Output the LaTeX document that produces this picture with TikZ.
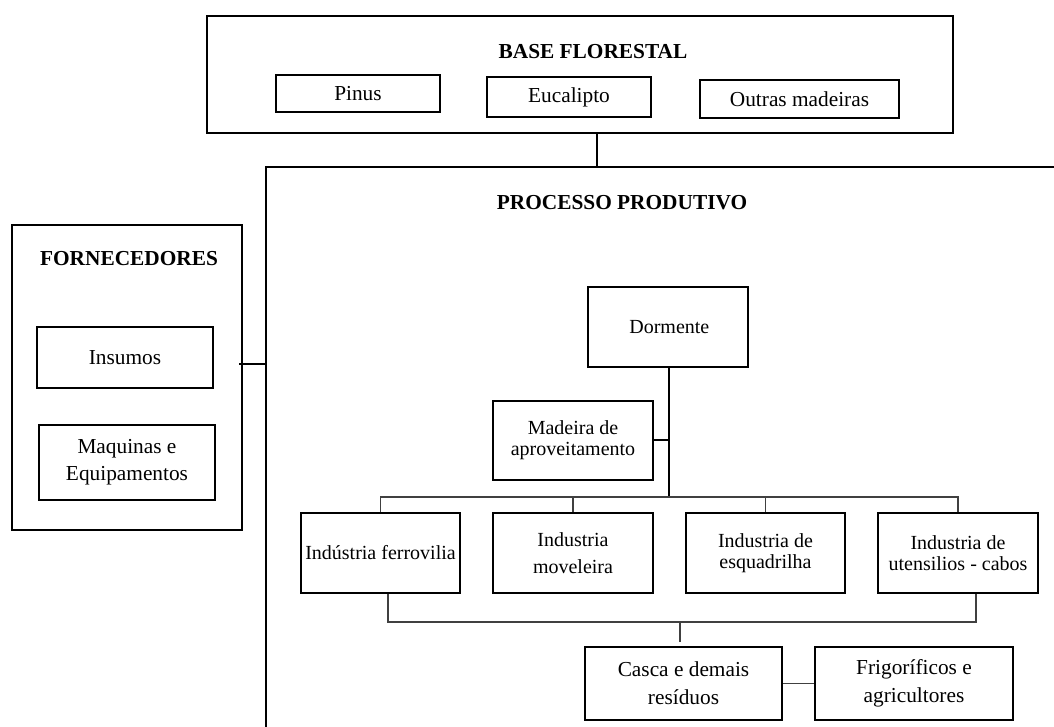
\documentclass[tikz,border=0pt]{standalone}
\usepackage{fontspec}
\setmainfont{Liberation Serif}
\usetikzlibrary{calc}
\begin{document}
\begin{tikzpicture}[x=0.75pt,y=-0.75pt,
  box/.style={draw=black,line width=1.5pt,inner sep=0pt,align=center,font=\fontsize{16}{19}\selectfont},
  pbox/.style={draw=black,line width=1.5pt,inner sep=0pt,align=center,font=\fontsize{15}{16}\selectfont},
  title/.style={inner sep=0pt,font=\fontsize{16}{19}\selectfont\bfseries},
  thick line/.style={draw=black,line width=1.5pt},
  thin line/.style={draw=black!75,line width=0.9pt}]
\useasboundingbox (0,0) rectangle (1054,727);
% Base florestal
\node[box,minimum width=559.5pt,minimum height=87.75pt] (base) at (580,74.5) {};
\node[title] (basetitle) at (593,52) {BASE FLORESTAL};
\node[box,minimum width=123pt,minimum height=27.75pt] (pinus) at (358,93.5) {Pinus};
\node[box,minimum width=123pt,minimum height=30pt] (euca) at (569,97) {Eucalipto};
\node[box,minimum width=149.25pt,minimum height=28.5pt] (outras) at (799.5,99) {Outras madeiras};
% Processo produtivo (open frame)
\coordinate (procTL) at (266,167);
\coordinate (procTR) at (1054,167);
\coordinate (procBL) at (266,727);
\draw[thick line] (procTR) -- (procTL) -- (procBL);
\node[title] (proctitle) at (622,203) {PROCESSO PRODUTIVO};
\coordinate (procTop) at (597,167);
\draw[thick line] (procTop |- base.south) -- (procTop);
% Fornecedores
\node[box,minimum width=172.5pt,minimum height=228.75pt] (forn) at (127,377.5) {};
\node[title] (forntitle) at (129,259) {FORNECEDORES};
\node[box,minimum width=132pt,minimum height=45.75pt] (insumos) at (125,357.5) {Insumos};
\node[box,minimum width=132pt,minimum height=56.25pt] (maq) at (127,462.5) {Maquinas e\\[1pt]Equipamentos};
\coordinate (procL) at (266,364);
\draw[thick line] ($(procL -| forn.east)+(-4,0)$) -- (procL);
% Dormente chain
\node[pbox,minimum width=120pt,minimum height=60pt] (dorm) at (668,327) {\hspace{2pt}Dormente};
\node[pbox,minimum width=120pt,minimum height=59.25pt] (mad) at (573,440.5) {Madeira de\\[0pt]aproveitamento};
\coordinate (bar) at (669,497);
\draw[thick line] (bar |- dorm.south) -- (bar);
\draw[thick line] (mad.east) -- (mad.east -| bar);
% Industries
\node[pbox,minimum width=119.25pt,minimum height=60pt] (i1) at (380.5,553) {Indústria ferrovilia};
\node[pbox,minimum width=120pt,minimum height=60pt] (i2) at (573,553) {Industria\\[4pt]moveleira};
\node[pbox,minimum width=119.25pt,minimum height=60pt] (i3) at (765.5,553) {Industria de\\[0pt]esquadrilha};
\node[pbox,minimum width=120pt,minimum height=60pt] (i4) at (958,553) {Industria de\\[0pt]utensilios - cabos};
\draw[thin line] (i1.north) -- (i1.north |- bar) -- (i4.north |- bar) -- (i4.north);
\draw[thin line] (i2.north |- bar) -- (i2.north);
\draw[thin line] (i3.north |- bar) -- (i3.north);
% Lower connectors
\coordinate (lowL) at (388,622);
\coordinate (lowR) at (976,622);
\coordinate (lowbar) at (680,622);
\draw[thin line] (lowL |- i1.south) -- (lowL) -- (lowR) -- (lowR |- i4.south);
\draw[thin line] (lowbar) -- ++(0,20);
\node[box,minimum width=147.75pt,minimum height=54.75pt] (casca) at (683.5,683.5) {Casca e demais\\[2pt]resíduos};
\node[box,minimum width=148.5pt,minimum height=54.75pt] (frig) at (914,683.5) {Frigoríficos e\\[2pt]agricultores};
\draw[thin line] (casca.east) -- (frig.west);
\end{tikzpicture}
\end{document}
